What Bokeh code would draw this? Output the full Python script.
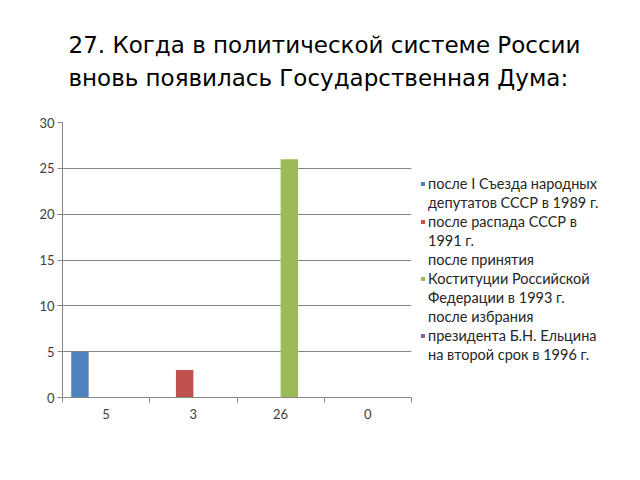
from bokeh.plotting import figure
from bokeh.models import (Range1d, LinearAxis, FixedTicker, Title,
                          Legend, LegendItem, ColumnDataSource)
from bokeh.transform import dodge
from bokeh.embed import file_html
from bokeh.resources import INLINE

# ---- data ----
categories = ["5", "3", "26", "0"]
series_names = [
    "после I Съезда народных\nдепутатов СССР в 1989 г.",
    "после распада СССР в\n1991 г.",
    "после принятия\nКоституции Российской\nФедерации в 1993 г.",
    "после избрания\nпрезидента Б.Н. Ельцина\nна второй срок в 1996 г.",
]
series_colors = ["#4F81BD", "#C0504D", "#9BBB59", "#8064A2"]
series_1989 = [5, 0, 0, 0]
series_1991 = [0, 3, 0, 0]
series_1993 = [0, 0, 26, 0]
series_1996 = [0, 0, 0, 0]
y_ticks = [0, 5, 10, 15, 20, 25, 30]
title_lines = ["27. Когда в политической системе России",
               "вновь появилась Государственная Дума:"]

series_values = [series_1989, series_1991, series_1993, series_1996]
keys = ["s1", "s2", "s3", "s4"]
n = len(categories)
centers = [i + 0.5 for i in range(n)]
boundaries = list(range(n + 1))
data = {"x": centers}
for k, v in zip(keys, series_values):
    data[k] = v
src = ColumnDataSource(data)

AX = "#868686"
LBL = "#404040"
FONT = "Lato"

p = figure(frame_width=349, frame_height=275,
           x_range=Range1d(0, n),
           y_range=Range1d(0, 30),
           x_axis_location=None, y_axis_location=None,
           output_backend="svg", toolbar_location=None,
           min_border_left=62, min_border_right=229,
           min_border_top=122, min_border_bottom=83)
p.outline_line_color = None
p.background_fill_color = "white"
p.border_fill_color = "white"

offsets = [-0.3, -0.1, 0.1, 0.3]
bars = []
for k, col, off in zip(keys, series_colors, offsets):
    r = p.vbar(x=dodge("x", off), top=k, width=0.2,
               source=src, fill_color=col, line_color=None)
    bars.append(r)
# invisible renderer used for continuation lines of the legend
blank = p.vbar(x="x", top="s4", width=0.2, source=src, fill_alpha=0, line_alpha=0)

# which line of each (wrapped) legend entry carries the colour swatch
marker_line = [0, 0, 1, 1]
items = []
for name, r, ml in zip(series_names, bars, marker_line):
    for j, line in enumerate(name.split("\n")):
        items.append(LegendItem(label=line, renderers=[r if j == ml else blank]))

# y axis
yax = LinearAxis(ticker=FixedTicker(ticks=y_ticks))
yax.axis_line_color = AX
yax.major_tick_line_color = AX
yax.major_tick_out = 5
yax.major_tick_in = 0
yax.minor_tick_line_color = None
yax.major_label_text_color = LBL
yax.major_label_text_font = FONT
yax.major_label_text_font_size = "13px"
yax.major_label_standoff = 3
p.add_layout(yax, "left")

# x axis: labels at category centres, tick marks at category boundaries
xax = LinearAxis(ticker=FixedTicker(ticks=centers, minor_ticks=boundaries),
                 major_label_overrides={c: lab for c, lab in zip(centers, categories)})
xax.axis_line_color = AX
xax.major_tick_line_color = None
xax.major_tick_out = 0
xax.major_tick_in = 0
xax.minor_tick_line_color = AX
xax.minor_tick_out = 5
xax.minor_tick_in = 0
xax.major_label_text_color = LBL
xax.major_label_text_font = FONT
xax.major_label_text_font_size = "13px"
xax.major_label_standoff = 6
p.add_layout(xax, "below")

p.ygrid.grid_line_color = AX
p.ygrid.ticker = FixedTicker(ticks=y_ticks)
p.xgrid.grid_line_color = None

legend = Legend(items=items, location=(9, 33))
legend.glyph_width = 5
legend.glyph_height = 5
legend.label_standoff = 3
legend.label_height = 19
legend.spacing = 0
legend.padding = 0
legend.margin = 8
legend.border_line_color = None
legend.background_fill_alpha = 0
legend.label_text_font = FONT
legend.label_text_font_size = "14.5px"
legend.label_text_color = "#262626"
legend.label_text_baseline = "middle"
p.add_layout(legend, "right")

# two-line title, left edge aligned just right of the frame's left edge
p.add_layout(Title(text="\n".join(title_lines), align="left", offset=6, standoff=58,
                   vertical_align="top",
                   text_font="DejaVu Sans", text_font_size="23px",
                   text_line_height=1.3,
                   text_font_style="normal", text_color="black"), "above")

open("out.html", "w").write(file_html(p, INLINE))
